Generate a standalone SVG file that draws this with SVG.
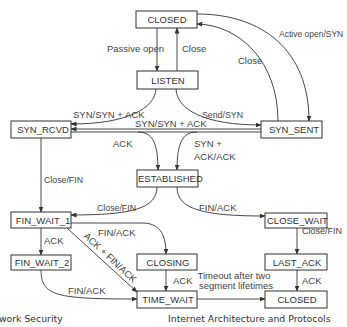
<svg xmlns="http://www.w3.org/2000/svg" width="347" height="327" viewBox="0 0 347 327">
<defs>
<linearGradient id="hg" x1="0" y1="0" x2="1" y2="0">
<stop offset="0" stop-color="#3a3a3a"/>
<stop offset="0.55" stop-color="#cfcfcf"/>
<stop offset="1" stop-color="#e6e6e6"/>
</linearGradient>
<marker id="ah" markerWidth="6" markerHeight="5" refX="5.5" refY="2.5" orient="auto" markerUnits="userSpaceOnUse">
<path d="M0,0 L6,2.5 L0,5 z" fill="#333"/>
</marker>
</defs>
<style>
.box{fill:#fff;stroke:#333;stroke-width:1}
.bt{font-family:"Liberation Sans",Arial,sans-serif;font-size:9.5px;fill:#333;text-anchor:middle}
.lb{font-family:"Liberation Sans",Arial,sans-serif;font-size:9.5px;fill:#444}
.e{fill:none;stroke:#333;stroke-width:0.9;marker-end:url(#ah)}
.p{fill:none;stroke:#333;stroke-width:0.9}
.ft{font-family:"DejaVu Sans",Verdana,sans-serif;font-size:9.3px;fill:#333}
</style>
<rect width="347" height="327" fill="#fff"/>
<line x1="0" y1="10" x2="347" y2="10" stroke="url(#hg)" stroke-width="2"/>

<g id="connectors">
<path class="e" d="M157,28 V71"/>
<path class="e" d="M177,71 V28"/>
<path class="e" d="M197,14 C262,14 309,50 309,121"/>
<path class="e" d="M278,121 C278,62 240,25 197,24"/>
<path class="e" d="M156,89 C155,108 128,124 71,124"/>
<path class="e" d="M176,89 C177,110 205,125 261,125"/>
<path class="e" d="M261,129 H71"/>
<path class="e" d="M71,132 H138 C152,132 158,142 158,170"/>
<path class="p" d="M138,132 H197"/>
<path class="e" d="M261,132 H197 C183,132 177,142 177,170"/>
<path class="e" d="M41,138 V212"/>
<path class="e" d="M157,187 C157,209 130,215 71,215"/>
<path class="e" d="M177,187 C177,210 205,216 265,216"/>
<path class="e" d="M41,228 V255"/>
<path class="e" d="M71,223 H142 C158,223 166,232 166,254"/>
<path class="e" d="M67,228 L137,292"/>
<path class="e" d="M41,270 C41,296 56,299 137,299"/>
<path class="e" d="M166,270 V291"/>
<path class="e" d="M197,299 H265"/>
<path class="e" d="M297,228 V254"/>
<path class="e" d="M297,270 V291"/>
</g>

<g id="labels">
<text class="lb" x="107" y="52">Passive open</text>
<text class="lb" x="182" y="52">Close</text>
<text class="lb" x="279" y="37" style="font-size:8.5px">Active open/SYN</text>
<text class="lb" x="238" y="64">Close</text>
<text class="lb" x="73" y="118">SYN/SYN + ACK</text>
<text class="lb" x="202" y="118" textLength="41" lengthAdjust="spacingAndGlyphs">Send/SYN</text>
<text class="lb" x="135" y="127">SYN/SYN + ACK</text>
<text class="lb" x="113" y="147">ACK</text>
<text class="lb" x="194" y="147">SYN +</text>
<text class="lb" x="194" y="160">ACK/ACK</text>
<text class="lb" x="44" y="183" textLength="39" lengthAdjust="spacingAndGlyphs">Close/FIN</text>
<text class="lb" x="97" y="211" textLength="39" lengthAdjust="spacingAndGlyphs">Close/FIN</text>
<text class="lb" x="199" y="211">FIN/ACK</text>
<text class="lb" x="44" y="244">ACK</text>
<text class="lb" x="98" y="236">FIN/ACK</text>
<text class="lb" x="302" y="234" style="font-size:9px">Close/FIN</text>
<text class="lb" x="108" y="260" text-anchor="middle" transform="rotate(43 108 260)">ACK + FIN/ACK</text>
<text class="lb" x="68" y="294">FIN/ACK</text>
<text class="lb" x="173" y="284">ACK</text>
<text class="lb" x="234" y="279" text-anchor="middle">Timeout after two</text>
<text class="lb" x="236" y="289" text-anchor="middle">segment lifetimes</text>
<text class="lb" x="302" y="284">ACK</text>
</g>

<g id="closed_top"><rect class="box" x="136" y="11" width="61" height="17"/><text class="bt" x="167" y="23">CLOSED</text></g>
<g id="listen"><rect class="box" x="137" y="71" width="61" height="18"/><text class="bt" x="168" y="84">LISTEN</text></g>
<g id="syn_rcvd"><rect class="box" x="11" y="121" width="60" height="17"/><text class="bt" x="43" y="133">SYN_RCVD</text></g>
<g id="syn_sent"><rect class="box" x="261" y="121" width="61" height="17"/><text class="bt" x="294" y="133">SYN_SENT</text></g>
<g id="established"><rect class="box" x="137" y="170" width="61" height="17"/><text class="bt" x="138" y="182" style="text-anchor:start">ESTABLISHED</text></g>
<g id="fin_wait_1"><rect class="box" x="11" y="212" width="60" height="16"/><text class="bt" x="43" y="224">FIN_WAIT_1</text></g>
<g id="close_wait"><rect class="box" x="265" y="213" width="62" height="15"/><text class="bt" x="267" y="224" style="text-anchor:start">CLOSE_WAIT</text></g>
<g id="fin_wait_2"><rect class="box" x="11" y="255" width="60" height="15"/><text class="bt" x="42" y="266">FIN_WAIT_2</text></g>
<g id="closing"><rect class="box" x="137" y="254" width="60" height="16"/><text class="bt" x="168" y="266">CLOSING</text></g>
<g id="last_ack"><rect class="box" x="265" y="254" width="62" height="16"/><text class="bt" x="297" y="266">LAST_ACK</text></g>
<g id="time_wait"><rect class="box" x="137" y="291" width="60" height="17"/><text class="bt" x="168" y="303">TIME_WAIT</text></g>
<g id="closed_bottom"><rect class="box" x="265" y="291" width="62" height="17"/><text class="bt" x="297" y="303">CLOSED</text></g>

<text class="ft" x="-1" y="322">work Security</text>
<text class="ft" x="168" y="322">Internet Architecture and Protocols</text>
</svg>
